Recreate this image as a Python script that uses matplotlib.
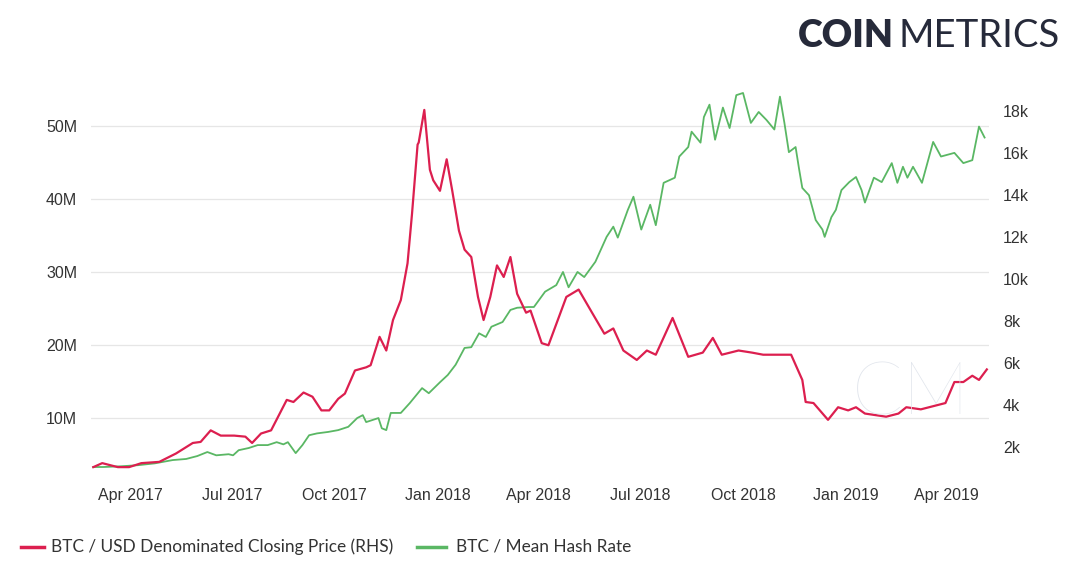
import pandas as pd
import matplotlib
matplotlib.use("Agg")
import matplotlib.pyplot as plt
from matplotlib.ticker import FuncFormatter, FixedLocator

# BTC / USD closing price (right axis), USD
price_dates = ["2017-02-27", "2017-03-07", "2017-03-21", "2017-03-31", "2017-04-11", "2017-04-27",
               "2017-05-12", "2017-05-27", "2017-06-03", "2017-06-12", "2017-06-21", "2017-07-03",
               "2017-07-13", "2017-07-19", "2017-07-27", "2017-08-05", "2017-08-19", "2017-08-25",
               "2017-09-03", "2017-09-11", "2017-09-19", "2017-09-26", "2017-10-04", "2017-10-10",
               "2017-10-19", "2017-10-29", "2017-11-02", "2017-11-10", "2017-11-16", "2017-11-22",
               "2017-11-29", "2017-12-05", "2017-12-09", "2017-12-14", "2017-12-15", "2017-12-20",
               "2017-12-25", "2017-12-28", "2018-01-03", "2018-01-09", "2018-01-14", "2018-01-20",
               "2018-01-25", "2018-01-31", "2018-02-06", "2018-02-11", "2018-02-17", "2018-02-23",
               "2018-03-01", "2018-03-07", "2018-03-13", "2018-03-21", "2018-03-25", "2018-04-04",
               "2018-04-10", "2018-04-26", "2018-05-07", "2018-05-19", "2018-05-30", "2018-06-07",
               "2018-06-16", "2018-06-28", "2018-07-07", "2018-07-15", "2018-07-30", "2018-08-13",
               "2018-08-26", "2018-09-04", "2018-09-12", "2018-09-27", "2018-10-09", "2018-10-19",
               "2018-11-10", "2018-11-13", "2018-11-23", "2018-11-26", "2018-12-03", "2018-12-16",
               "2018-12-25", "2019-01-03", "2019-01-10", "2019-01-18", "2019-02-06", "2019-02-17",
               "2019-02-24", "2019-03-09", "2019-03-31", "2019-04-08", "2019-04-16", "2019-04-24",
               "2019-04-30", "2019-05-07"]
price_usd = [1050, 1240, 1050, 1050, 1240, 1300,
             1700, 2200, 2250, 2800, 2550, 2550,
             2500, 2200, 2650, 2800, 4250, 4150,
             4600, 4400, 3750, 3750, 4300, 4550,
             5650, 5800, 5900, 7250, 6600, 8050,
             9000, 10750, 13100, 16400, 16500, 18050,
             15200, 14700, 14200, 15700, 14200, 12300,
             11400, 11050, 9150, 8050, 9150, 10650,
             10100, 11050, 9300, 8400, 8500, 6950,
             6850, 9150, 9500, 8400, 7400, 7650,
             6600, 6150, 6600, 6400, 8150, 6300,
             6500, 7200, 6400, 6600, 6500, 6400,
             6400, 6400, 5200, 4150, 4100, 3300,
             3900, 3750, 3900, 3600, 3450, 3600,
             3900, 3800, 4100, 5100, 5100, 5400,
             5200, 5700]

# BTC mean hash rate (left axis), millions
hash_dates = ["2017-02-27", "2017-03-08", "2017-03-24", "2017-04-08", "2017-04-23", "2017-05-09",
              "2017-05-21", "2017-05-31", "2017-06-09", "2017-06-17", "2017-06-28", "2017-07-02",
              "2017-07-07", "2017-07-16", "2017-07-24", "2017-08-02", "2017-08-10", "2017-08-16",
              "2017-08-20", "2017-08-27", "2017-09-02", "2017-09-08", "2017-09-15", "2017-09-25",
              "2017-10-04", "2017-10-13", "2017-10-21", "2017-10-26", "2017-10-29", "2017-11-09",
              "2017-11-12", "2017-11-16", "2017-11-20", "2017-11-29", "2017-12-07", "2017-12-18",
              "2017-12-24", "2018-01-03", "2018-01-10", "2018-01-17", "2018-01-25", "2018-01-31",
              "2018-02-07", "2018-02-13", "2018-02-18", "2018-02-28", "2018-03-07", "2018-03-13",
              "2018-03-23", "2018-03-28", "2018-04-07", "2018-04-17", "2018-04-23", "2018-04-28",
              "2018-05-06", "2018-05-12", "2018-05-22", "2018-06-01", "2018-06-07", "2018-06-11",
              "2018-06-20", "2018-06-25", "2018-07-02", "2018-07-10", "2018-07-15", "2018-07-22",
              "2018-08-01", "2018-08-05", "2018-08-13", "2018-08-16", "2018-08-24", "2018-08-27",
              "2018-09-01", "2018-09-06", "2018-09-13", "2018-09-19", "2018-09-25", "2018-10-01",
              "2018-10-08", "2018-10-15", "2018-10-22", "2018-10-29", "2018-11-03", "2018-11-07",
              "2018-11-11", "2018-11-17", "2018-11-20", "2018-11-23", "2018-11-29", "2018-12-05",
              "2018-12-11", "2018-12-13", "2018-12-19", "2018-12-23", "2018-12-28", "2019-01-04",
              "2019-01-10", "2019-01-15", "2019-01-18", "2019-01-26", "2019-02-02", "2019-02-11",
              "2019-02-16", "2019-02-21", "2019-02-25", "2019-03-02", "2019-03-10", "2019-03-20",
              "2019-03-27", "2019-04-08", "2019-04-16", "2019-04-24", "2019-04-30", "2019-05-05"]
hash_m = [3.3, 3.3, 3.4, 3.55, 3.8, 4.25,
          4.4, 4.8, 5.35, 4.9, 5.05, 4.9,
          5.6, 5.9, 6.3, 6.3, 6.7, 6.4,
          6.7, 5.2, 6.3, 7.65, 7.9, 8.1,
          8.35, 8.8, 10.0, 10.4, 9.45, 10.0,
          8.6, 8.35, 10.7, 10.7, 12.05, 14.1,
          13.4, 14.9, 15.9, 17.3, 19.6, 19.7,
          21.6, 21.1, 22.5, 23.15, 24.8, 25.1,
          25.2, 25.2, 27.3, 28.2, 30.0, 27.9,
          30.0, 29.3, 31.4, 34.8, 36.2, 34.7,
          38.5, 40.3, 35.8, 39.2, 36.4, 42.2,
          42.9, 45.8, 47.1, 49.2, 47.7, 51.2,
          52.9, 48.1, 52.5, 49.7, 54.2, 54.5,
          50.4, 51.9, 50.8, 49.5, 54.0, 50.4,
          46.4, 47.1, 44.2, 41.5, 40.5, 37.1,
          35.8, 34.8, 37.5, 38.5, 41.2, 42.3,
          43.0, 41.2, 39.5, 42.9, 42.3, 44.9,
          42.2, 44.4, 42.9, 44.4, 42.2, 47.8,
          45.8, 46.3, 44.9, 45.3, 49.9, 48.4]

left_ticks = [10, 20, 30, 40, 50]
right_ticks = [2000, 4000, 6000, 8000, 10000, 12000, 14000, 16000, 18000]
x_ticks = ["2017-04-01", "2017-07-01", "2017-10-01", "2018-01-01", "2018-04-01",
           "2018-07-01", "2018-10-01", "2019-01-01", "2019-04-01"]

RED = "#dc1f4f"
GREEN = "#5ab764"
TXT = "#333333"

fig = plt.figure(figsize=(10.8, 5.78), dpi=100)
ax = fig.add_axes([0.0843, 0.178, 0.8315, 0.670])
ax2 = ax.twinx()

ax.plot(pd.to_datetime(hash_dates), hash_m, color=GREEN, lw=1.3)
ax2.plot(pd.to_datetime(price_dates), price_usd, color=RED, lw=1.6)

ax.set_xlim(pd.Timestamp("2017-02-25"), pd.Timestamp("2019-05-09"))
ax.set_ylim(2.19, 55.2)
ax2.set_ylim(670, 19100)

ax.yaxis.set_major_locator(FixedLocator(left_ticks))
ax.yaxis.set_major_formatter(FuncFormatter(lambda v, p: f"{v:.0f}M"))
ax2.yaxis.set_major_locator(FixedLocator(right_ticks))
ax2.yaxis.set_major_formatter(FuncFormatter(lambda v, p: f"{v/1000:.0f}k"))

xt = pd.to_datetime(x_ticks)
ax.set_xticks(xt)
ax.set_xticklabels([d.strftime("%b %Y") for d in xt])

ax.grid(axis="y", color="#e6e6e6", lw=0.9)
ax.set_axisbelow(True)
for a in (ax, ax2):
    for s in a.spines.values():
        s.set_visible(False)
    a.tick_params(length=0, labelsize=11.5, colors=TXT, labelfontfamily="Liberation Sans")
ax.tick_params(axis="y", pad=10)
ax2.tick_params(axis="y", pad=10)
ax.tick_params(axis="x", pad=9)

# watermark
fig.text(0.8435, 0.318, "CM", fontsize=54, color="#e1e5ec", ha="center", va="center",
         family="Lato", weight="light", zorder=0)

# logo
fig.text(0.739, 0.938, "COIN", fontsize=27, color="#262a3a", ha="left", va="center",
         family="Lato", weight="heavy")
fig.text(0.832, 0.938, "METRICS", fontsize=27.5, color="#262a3a", ha="left", va="center",
         family="Lato", weight="normal")

# legend
fig.lines.append(plt.Line2D([0.019, 0.041], [0.054, 0.054], color=RED, lw=2.5,
                            transform=fig.transFigure))
fig.text(0.047, 0.054, "BTC / USD Denominated Closing Price (RHS)", fontsize=12.4,
         color=TXT, ha="left", va="center", family="Lato")
fig.lines.append(plt.Line2D([0.386, 0.413], [0.054, 0.054], color=GREEN, lw=2.5,
                            transform=fig.transFigure))
fig.text(0.422, 0.054, "BTC / Mean Hash Rate", fontsize=12.4,
         color=TXT, ha="left", va="center", family="Lato")

fig.savefig("out.png", dpi=100, facecolor="white")
